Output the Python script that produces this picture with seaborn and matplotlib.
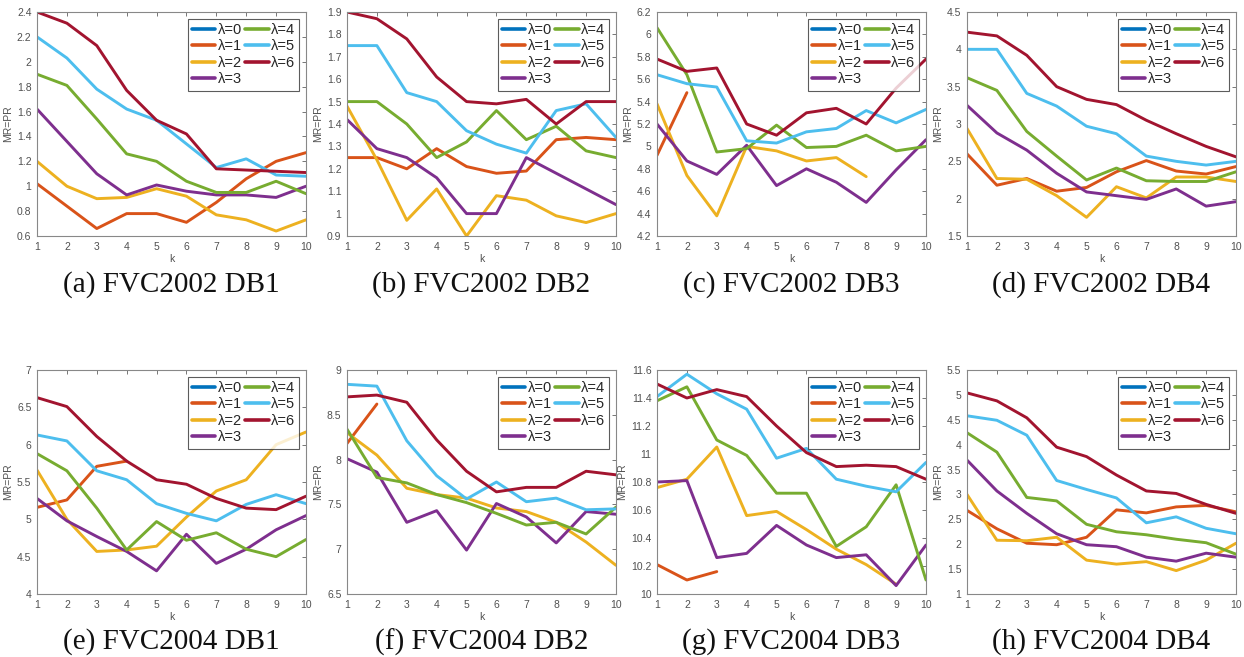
import numpy as np
import pandas as pd
import matplotlib
matplotlib.use("Agg")
import matplotlib.pyplot as plt
from matplotlib.lines import Line2D
import seaborn as sns

nan = np.nan
k = list(range(1, 11))
lambdas = ["λ=0", "λ=1", "λ=2", "λ=3", "λ=4", "λ=5", "λ=6"]
colors = ["#0072BD", "#D95319", "#EDB120", "#7E2F8E", "#77AC30", "#4DBEEE", "#A2142F"]

titles = ["(a) FVC2002 DB1", "(b) FVC2002 DB2", "(c) FVC2002 DB3", "(d) FVC2002 DB4",
          "(e) FVC2004 DB1", "(f) FVC2004 DB2", "(g) FVC2004 DB3", "(h) FVC2004 DB4"]
ylims = [(0.6, 2.4), (0.9, 1.9), (4.2, 6.2), (1.5, 4.5), (4, 7), (6.5, 9), (10, 11.6), (1, 5.5)]
ysteps = [0.2, 0.1, 0.2, 0.5, 0.5, 0.5, 0.2, 0.5]

# Values per panel, lambda = 1..6 (lambda = 0 has no visible line)
a_l1 = [1.02, 0.84, 0.66, 0.78, 0.78, 0.71, 0.87, 1.06, 1.20, 1.27]
a_l2 = [1.20, 1.00, 0.90, 0.91, 0.98, 0.92, 0.77, 0.73, 0.64, 0.73]
a_l3 = [1.62, 1.36, 1.10, 0.93, 1.01, 0.96, 0.93, 0.93, 0.91, 1.00]
a_l4 = [1.90, 1.81, 1.54, 1.26, 1.20, 1.04, 0.95, 0.95, 1.04, 0.94]
a_l5 = [2.20, 2.03, 1.78, 1.62, 1.53, 1.34, 1.15, 1.22, 1.09, 1.08]
a_l6 = [2.40, 2.31, 2.13, 1.77, 1.53, 1.42, 1.14, 1.13, 1.12, 1.11]

b_l1 = [1.25, 1.25, 1.20, 1.29, 1.21, 1.18, 1.19, 1.33, 1.34, 1.33]
b_l2 = [1.48, 1.24, 0.97, 1.11, 0.90, 1.08, 1.06, 0.99, 0.96, 1.00]
b_l3 = [1.42, 1.29, 1.25, 1.16, 1.00, 1.00, 1.25, 1.18, 1.11, 1.04]
b_l4 = [1.50, 1.50, 1.40, 1.25, 1.32, 1.46, 1.33, 1.39, 1.28, 1.25]
b_l5 = [1.75, 1.75, 1.54, 1.50, 1.37, 1.31, 1.27, 1.46, 1.49, 1.34]
b_l6 = [1.90, 1.87, 1.78, 1.61, 1.50, 1.49, 1.51, 1.40, 1.50, 1.50]

c_l1 = [4.92, 5.48, nan, nan, nan, nan, nan, nan, nan, nan]
c_l2 = [5.38, 4.74, 4.38, 5.00, 4.96, 4.87, 4.90, 4.73, nan, nan]
c_l3 = [5.20, 4.87, 4.75, 5.01, 4.65, 4.80, 4.68, 4.50, 4.79, 5.06]
c_l4 = [6.06, 5.64, 4.95, 4.98, 5.19, 4.99, 5.00, 5.10, 4.96, 5.00]
c_l5 = [5.64, 5.56, 5.53, 5.05, 5.03, 5.13, 5.16, 5.32, 5.21, 5.33]
c_l6 = [5.78, 5.67, 5.70, 5.20, 5.10, 5.30, 5.34, 5.20, 5.52, 5.78]

d_l1 = [2.60, 2.18, 2.27, 2.10, 2.15, 2.36, 2.51, 2.37, 2.33, 2.43]
d_l2 = [2.94, 2.27, 2.26, 2.04, 1.75, 2.16, 2.01, 2.29, 2.29, 2.23]
d_l3 = [3.25, 2.88, 2.65, 2.34, 2.09, 2.04, 1.99, 2.13, 1.90, 1.96]
d_l4 = [3.62, 3.45, 2.90, 2.57, 2.25, 2.41, 2.24, 2.23, 2.23, 2.36]
d_l5 = [4.00, 4.00, 3.41, 3.24, 2.97, 2.87, 2.57, 2.50, 2.45, 2.50]
d_l6 = [4.23, 4.18, 3.92, 3.50, 3.33, 3.26, 3.05, 2.87, 2.70, 2.56]

e_l1 = [5.16, 5.26, 5.71, 5.78, nan, nan, nan, nan, nan, nan]
e_l2 = [5.66, 5.00, 4.57, 4.59, 4.64, 5.03, 5.38, 5.53, 6.00, 6.17]
e_l3 = [5.28, 4.98, 4.77, 4.57, 4.31, 4.80, 4.41, 4.60, 4.86, 5.05]
e_l4 = [5.88, 5.65, 5.15, 4.59, 4.97, 4.72, 4.82, 4.60, 4.50, 4.73]
e_l5 = [6.13, 6.05, 5.65, 5.53, 5.21, 5.08, 4.98, 5.20, 5.33, 5.21]
e_l6 = [6.63, 6.51, 6.11, 5.78, 5.53, 5.47, 5.28, 5.15, 5.13, 5.31]

f_l1 = [8.18, 8.62, nan, nan, nan, nan, nan, nan, nan, nan]
f_l2 = [8.30, 8.05, 7.68, 7.61, 7.57, 7.46, 7.42, 7.30, 7.08, 6.82]
f_l3 = [8.01, 7.86, 7.30, 7.43, 6.99, 7.51, 7.36, 7.07, 7.42, 7.39]
f_l4 = [8.34, 7.80, 7.74, 7.61, 7.52, 7.40, 7.27, 7.30, 7.17, 7.47]
f_l5 = [8.84, 8.82, 8.21, 7.82, 7.56, 7.75, 7.53, 7.57, 7.44, 7.45]
f_l6 = [8.70, 8.72, 8.64, 8.22, 7.87, 7.64, 7.69, 7.69, 7.87, 7.83]

g_l1 = [10.21, 10.10, 10.16, nan, nan, nan, nan, nan, nan, nan]
g_l2 = [10.76, 10.82, 11.05, 10.56, 10.59, 10.46, 10.32, 10.21, 10.07, nan]
g_l3 = [10.80, 10.81, 10.26, 10.29, 10.49, 10.35, 10.26, 10.28, 10.06, 10.35]
g_l4 = [11.38, 11.48, 11.10, 10.99, 10.72, 10.72, 10.34, 10.48, 10.78, 10.10]
g_l5 = [11.41, 11.57, 11.43, 11.32, 10.97, 11.04, 10.82, 10.77, 10.73, 10.94]
g_l6 = [11.50, 11.40, 11.46, 11.41, 11.20, 11.01, 10.91, 10.92, 10.91, 10.82]

h_l1 = [2.68, 2.31, 2.02, 1.99, 2.14, 2.69, 2.63, 2.75, 2.78, 2.65]
h_l2 = [3.00, 2.08, 2.07, 2.14, 1.68, 1.60, 1.65, 1.47, 1.68, 2.02]
h_l3 = [3.69, 3.07, 2.62, 2.21, 1.99, 1.95, 1.74, 1.66, 1.82, 1.74]
h_l4 = [4.24, 3.85, 2.94, 2.87, 2.40, 2.25, 2.19, 2.10, 2.03, 1.80]
h_l5 = [4.58, 4.49, 4.19, 3.28, 3.10, 2.93, 2.43, 2.55, 2.32, 2.21]
h_l6 = [5.04, 4.88, 4.54, 3.95, 3.76, 3.39, 3.07, 3.02, 2.80, 2.62]

panels = [
    [a_l1, a_l2, a_l3, a_l4, a_l5, a_l6],
    [b_l1, b_l2, b_l3, b_l4, b_l5, b_l6],
    [c_l1, c_l2, c_l3, c_l4, c_l5, c_l6],
    [d_l1, d_l2, d_l3, d_l4, d_l5, d_l6],
    [e_l1, e_l2, e_l3, e_l4, e_l5, e_l6],
    [f_l1, f_l2, f_l3, f_l4, f_l5, f_l6],
    [g_l1, g_l2, g_l3, g_l4, g_l5, g_l6],
    [h_l1, h_l2, h_l3, h_l4, h_l5, h_l6],
]

sns.set_style("white")
plt.rcParams['font.family'] = ['Liberation Sans', 'DejaVu Sans']

W, H = 1244, 657
fig = plt.figure(figsize=(W / 100, H / 100), dpi=100)

lefts = [37, 347, 657, 967]
tops = [12, 370]
aw, ah = 269, 224
caption_y = [285, 642]

tick_col = "#606060"

for i, series in enumerate(panels):
    r, c = divmod(i, 4)
    x0 = lefts[c]
    y0 = tops[r]
    ax = fig.add_axes([x0 / W, 1 - (y0 + ah) / H, aw / W, ah / H])
    rows = []
    for j, vals in enumerate(series):
        for kk, v in zip(k, vals):
            rows.append({"k": kk, "v": v, "lam": lambdas[j + 1]})
    df = pd.DataFrame(rows).dropna()
    sns.lineplot(data=df, x="k", y="v", hue="lam", hue_order=lambdas[1:],
                 palette=colors[1:], linewidth=2.1, ax=ax, legend=False, sort=True)
    lo, hi = ylims[i]
    ax.set_xlim(1, 10)
    ax.set_ylim(lo, hi)
    ax.set_xticks(k)
    yt = np.round(np.arange(lo, hi + 1e-9, ysteps[i]), 2)
    ax.set_yticks(yt)
    ax.set_yticklabels([f"{t:g}" for t in yt])
    ax.tick_params(direction="in", length=3, width=0.6, colors=tick_col,
                   labelsize=7.5, top=True, right=True, pad=4)
    ax.tick_params(axis="both", labelcolor="#505050")
    for s in ax.spines.values():
        s.set_color("#888888")
        s.set_linewidth(0.8)
    ax.set_xlabel("k", fontsize=7.5, color="#505050", labelpad=2)
    ax.set_ylabel("MR=PR", fontsize=7.5, color="#505050", labelpad=3)
    handles = [Line2D([], [], color=colors[m], lw=2.6) for m in range(7)]
    leg = ax.legend(handles, lambdas, ncol=2, loc="upper right", fontsize=10.5,
                    handlelength=1.6, handletextpad=0.15, columnspacing=0.25,
                    labelspacing=0.17, borderpad=0.3, borderaxespad=0.45,
                    frameon=True, fancybox=False, edgecolor="#333333")
    leg.get_frame().set_linewidth(0.8)
    fig.text((x0 + aw / 2) / W, 1 - caption_y[r] / H, titles[i],
             ha="center", va="center", fontsize=21,
             family=["Liberation Serif", "DejaVu Serif"], color="#111111")

fig.savefig("out.png", dpi=100, facecolor="white")
